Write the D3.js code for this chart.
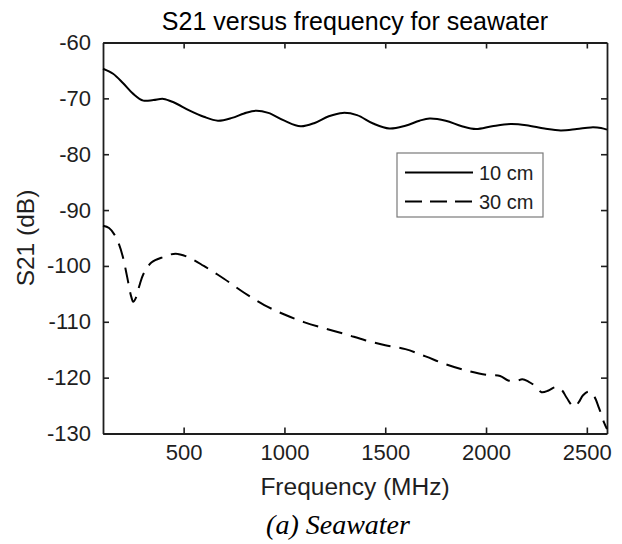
<!DOCTYPE html>
<html>
<head>
<meta charset="utf-8">
<script src="https://cdn.jsdelivr.net/npm/d3@7"></script>
<style>
  body { margin: 0; background: #fff; }
  svg { display: block; font-family: 'Liberation Sans', Arial, sans-serif; }
</style>
</head>
<body>
<div class="chart"></div>
<script>
// S21 vs frequency, seawater, two antenna spacings

const freq10 = [100, 150, 200, 250, 300, 350, 400, 450, 530, 600, 670, 740, 800, 860, 920, 1000,
  1080, 1150, 1220, 1290, 1360, 1440, 1520, 1600, 1670, 1720, 1800, 1880, 1950, 2030, 2120,
  2200, 2290, 2370, 2450, 2520, 2570, 2600]
const s21_10 = [-64.7, -65.6, -67.3, -69.2, -70.4, -70.3, -70.1, -70.7, -72.2, -73.3, -74.0, -73.5,
  -72.7, -72.2, -72.6, -74.0, -75.0, -74.4, -73.2, -72.6, -73.0, -74.5, -75.4, -74.9, -74.0,
  -73.6, -74.0, -75.0, -75.5, -75.0, -74.6, -74.8, -75.4, -75.75, -75.5, -75.2, -75.3, -75.6]

const freq30 = [100, 130, 155, 180, 200, 220, 240, 250, 262, 280, 300, 340, 400, 460, 520, 600,
  700, 800, 900, 1000, 1100, 1200, 1300, 1400, 1500, 1600, 1700, 1800, 1900, 2000, 2070, 2110,
  2150, 2180, 2210, 2240, 2275, 2310, 2345, 2375, 2400, 2435, 2460, 2480, 2508, 2535, 2560,
  2585, 2600]
const s21_30 = [-92.8, -93.2, -94.3, -96.2, -98.6, -102.0, -105.5, -106.4, -105.8, -103.6, -101.5,
  -99.4, -98.4, -97.8, -98.4, -100.0, -102.3, -104.8, -107.0, -108.7, -110.1, -111.2, -112.2,
  -113.3, -114.2, -114.9, -116.2, -117.6, -118.7, -119.5, -119.7, -120.5, -120.6, -120.3,
  -120.7, -121.4, -122.6, -122.3, -121.7, -122.2, -123.6, -125.2, -124.4, -123.2, -122.5,
  -123.3, -125.4, -128.0, -129.2]

const seriesNames = ['10 cm', '30 cm']
const xTicks = [500, 1000, 1500, 2000, 2500]
const yTicks = [-60, -70, -80, -90, -100, -110, -120, -130]

const W = 622, H = 544
const margin = { top: 42.5, right: 15, bottom: 110.5, left: 103 }
const width = W - margin.left - margin.right
const height = H - margin.top - margin.bottom
const ink = '#1e1e1e'
const tickFs = 22, labelFs = 24.5, legendFs = 20

const svg = d3.select('.chart')
  .append('svg')
    .attr('width', W)
    .attr('height', H)

svg.append('rect').attr('width', W).attr('height', H).attr('fill', '#fff')

const g = svg.append('g')
  .attr('transform', `translate(${margin.left}, ${margin.top})`)

const x = d3.scaleLinear().domain([100, 2600]).range([0, width])
const y = d3.scaleLinear().domain([-130, -60]).range([height, 0])

const plain = d => String(d)

// box axes, ticks pointing in
const styleAxis = sel => {
  sel.select('.domain').attr('stroke', ink).attr('stroke-width', 1.8)
  sel.selectAll('.tick line').attr('stroke', ink).attr('stroke-width', 1.6)
  sel.selectAll('.tick text').attr('fill', ink).style('font-size', tickFs + 'px')
    .style('font-family', "'Liberation Sans', Arial, sans-serif")
}

g.append('g')
  .attr('transform', `translate(0, ${height})`)
  .call(d3.axisBottom(x).tickValues(xTicks).tickFormat(plain).tickSizeInner(-6).tickSizeOuter(0).tickPadding(11))
  .call(styleAxis)
g.append('g')
  .call(d3.axisTop(x).tickValues(xTicks).tickSizeInner(-6).tickSizeOuter(0).tickFormat(''))
  .call(styleAxis)
g.append('g')
  .call(d3.axisLeft(y).tickValues(yTicks).tickFormat(plain).tickSizeInner(-6).tickSizeOuter(0).tickPadding(12))
  .call(styleAxis)
g.append('g')
  .attr('transform', `translate(${width}, 0)`)
  .call(d3.axisRight(y).tickValues(yTicks).tickSizeInner(-6).tickSizeOuter(0).tickFormat(''))
  .call(styleAxis)

const line = d3.line()
  .x(d => x(d[0]))
  .y(d => y(d[1]))
  .curve(d3.curveCatmullRom.alpha(0.5))

g.append('path')
  .datum(d3.zip(freq10, s21_10))
  .attr('d', line)
  .attr('fill', 'none')
  .attr('stroke', '#000')
  .attr('stroke-width', 2)

g.append('path')
  .datum(d3.zip(freq30, s21_30))
  .attr('d', line)
  .attr('fill', 'none')
  .attr('stroke', '#000')
  .attr('stroke-width', 2)
  .attr('stroke-dasharray', '16,9')

// legend
const lg = svg.append('g').attr('transform', 'translate(397, 153)')
lg.append('rect')
  .attr('width', 146).attr('height', 64)
  .attr('fill', '#fff').attr('stroke', '#7a7a7a').attr('stroke-width', 1.2)
seriesNames.forEach((name, i) => {
  const ly = 19.5 + i * 29
  lg.append('line')
    .attr('x1', 8).attr('x2', 76).attr('y1', ly).attr('y2', ly)
    .attr('stroke', '#000').attr('stroke-width', 2)
    .attr('stroke-dasharray', i === 1 ? '17,8' : null)
  lg.append('text')
    .attr('x', 82).attr('y', ly).attr('dy', '0.35em')
    .style('font-size', legendFs + 'px').attr('fill', ink)
    .text(name)
})

// titles
svg.append('text')
  .attr('x', margin.left + width / 2).attr('y', 30)
  .attr('text-anchor', 'middle')
  .style('font-size', '25px').attr('fill', '#000')
  .text('S21 versus frequency for seawater')

svg.append('text')
  .attr('x', margin.left + width / 2).attr('y', 495)
  .attr('text-anchor', 'middle')
  .style('font-size', labelFs + 'px').attr('fill', ink)
  .text('Frequency (MHz)')

svg.append('text')
  .attr('transform', `translate(34, ${margin.top + height / 2}) rotate(-90)`)
  .attr('text-anchor', 'middle')
  .style('font-size', labelFs + 'px').attr('fill', ink)
  .text('S21 (dB)')

svg.append('text')
  .attr('x', 338).attr('y', 534)
  .attr('text-anchor', 'middle')
  .style('font-family', "'Liberation Serif', 'Times New Roman', serif")
  .style('font-style', 'italic')
  .style('font-size', '28px')
  .attr('fill', '#000')
  .text('(a) Seawater')
</script>
</body>
</html>
